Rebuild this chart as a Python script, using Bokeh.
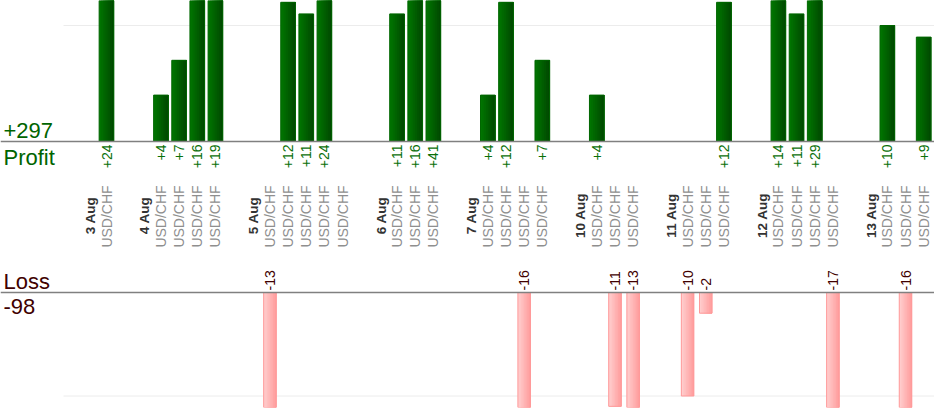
import math
from bokeh.plotting import figure
from bokeh.models import Range1d, Span
from bokeh.core.properties import value
from bokeh.embed import file_html
from bokeh.resources import INLINE

# ---------------- data ----------------
DAYS = ["3 Aug", "4 Aug", "5 Aug", "6 Aug", "7 Aug", "10 Aug", "11 Aug", "12 Aug", "13 Aug"]
TRADES_PER_DAY = [1, 4, 5, 3, 4, 3, 3, 4, 3]
PAIR = "USD/CHF"
RESULTS = [24,
           4, 7, 16, 19,
           -13, 12, 11, 24, 0,
           11, 16, 41,
           4, 12, -16, 7,
           4, -11, -13,
           -10, -2, 12,
           14, 11, 29, -17,
           10, -16, 9]
PROFIT_GRID = 10
LOSS_GRID = -10

# ---------------- layout ----------------
W, H = 934, 420
BOTTOM_BORDER = 13
FRAME_H = H - BOTTOM_BORDER
PITCH = 18.16           # px per slot
LEFT_PAD_PX = 106       # px from frame left to first slot centre
GRID_LEFT_PX = 63
PROFIT_BASE_PX = 141    # baseline of profit panel from frame top
PROFIT_PPU = 11.6
LOSS_BASE_PX = 292
LOSS_PPU = 10.35
GAP = 2
FONT = value("Liberation Sans")
STRIPS = 8

slots, first_slot = [], []
s = 0
for n in TRADES_PER_DAY:
    first_slot.append(s)
    for _ in range(n):
        slots.append(s)
        s += 1
    s += GAP

x_start = -LEFT_PAD_PX / PITCH
x_end = x_start + W / PITCH
grid_x0 = x_start + GRID_LEFT_PX / PITCH

p = figure(width=W, height=H,
           x_range=Range1d(x_start, x_end),
           y_range=Range1d(-(FRAME_H - PROFIT_BASE_PX) / PROFIT_PPU, PROFIT_BASE_PX / PROFIT_PPU),
           x_axis_type=None, y_axis_type=None,
           output_backend="svg", toolbar_location=None,
           min_border_left=0, min_border_right=0, min_border_top=0,
           min_border_bottom=BOTTOM_BORDER, outline_line_color=None,
           background_fill_color="white", border_fill_color="white")
p.extra_y_ranges = {"loss": Range1d(-(FRAME_H - LOSS_BASE_PX) / LOSS_PPU, LOSS_BASE_PX / LOSS_PPU)}

# grid lines
p.segment(x0=[grid_x0], y0=[PROFIT_GRID], x1=[x_end], y1=[PROFIT_GRID], line_color="#ececec", line_width=1)
p.segment(x0=[grid_x0], y0=[LOSS_GRID], x1=[x_end], y1=[LOSS_GRID], line_color="#ececec", line_width=1,
          y_range_name="loss")

pos_x = [x for x, v in zip(slots, RESULTS) if v > 0]
pos_v = [v for v in RESULTS if v > 0]
neg_x = [x for x, v in zip(slots, RESULTS) if v < 0]
neg_v = [v for v in RESULTS if v < 0]


def mix(c0, c1, t):
    return "#%02x%02x%02x" % tuple(int(round(a + (b - a) * t)) for a, b in zip(c0, c1))


def gradient_bars(xs, tops, bottoms, width, c0, c1, outline, **kw):
    # overlapping right-anchored layers: each one starts a bit further right
    sw = width / STRIPS
    for k in range(STRIPS):
        col = mix(c0, c1, k / (STRIPS - 1))
        w = width - k * sw
        off = width / 2 - w / 2
        p.vbar(x=[x + off for x in xs], top=tops, bottom=bottoms, width=w,
               fill_color=col, line_color=None, **kw)
    p.vbar(x=xs, top=tops, bottom=bottoms, width=width, fill_alpha=0,
           line_color=outline, line_width=1, **kw)


gradient_bars(pos_x, pos_v, [0] * len(pos_x), 0.81, (0, 0x74, 0), (0, 0x4a, 0), "#006600")
gradient_bars(neg_x, [0] * len(neg_x), neg_v, 0.69, (0xff, 0xcc, 0xcc), (0xff, 0x9f, 0x9f), "#ff9999",
              y_range_name="loss")

p.add_layout(Span(location=0, dimension="width", line_color="#808080", line_width=1.5))
p.add_layout(Span(location=0, dimension="width", line_color="#808080", line_width=1.5, y_range_name="loss"))

# value labels
p.text(x=pos_x, y=[0] * len(pos_x), text=["+%d" % v for v in pos_v], angle=math.pi / 2,
       text_align="right", text_baseline="middle", y_offset=3,
       text_font=FONT, text_font_size="14px", text_color="#0a700a")
p.text(x=neg_x, y=[0] * len(neg_x), text=["%d" % v for v in neg_v], angle=math.pi / 2,
       text_align="left", text_baseline="middle", y_offset=-2, y_range_name="loss",
       text_font=FONT, text_font_size="14px", text_color="#400000")

# category labels
p.text(x=slots, y=[0] * len(slots), text=[PAIR] * len(slots), angle=math.pi / 2,
       text_align="center", text_baseline="middle", y_offset=75,
       text_font=FONT, text_font_size="14px", text_color="#8f8f8f")
p.text(x=first_slot, y=[0] * len(first_slot), text=DAYS, angle=math.pi / 2,
       text_align="center", text_baseline="middle", x_offset=-16, y_offset=74,
       text_font=FONT, text_font_size="13.5px", text_font_style="bold", text_color="#333333")

# totals
total_profit = sum(pos_v)
total_loss = sum(neg_v)
p.text(x=[x_start], y=[0], text=["+%d" % total_profit], x_offset=3, y_offset=-11.5,
       text_align="left", text_baseline="middle",
       text_font=FONT, text_font_size="22px", text_color="#006400")
p.text(x=[x_start], y=[0], text=["Profit"], x_offset=3, y_offset=15.5,
       text_align="left", text_baseline="middle",
       text_font=FONT, text_font_size="22px", text_color="#006400")
p.text(x=[x_start], y=[0], text=["Loss"], x_offset=3, y_offset=-11.5, y_range_name="loss",
       text_align="left", text_baseline="middle",
       text_font=FONT, text_font_size="22px", text_color="#400000")
p.text(x=[x_start], y=[0], text=["%d" % total_loss], x_offset=3, y_offset=14, y_range_name="loss",
       text_align="left", text_baseline="middle",
       text_font=FONT, text_font_size="22px", text_color="#400000")

open("out.html", "w").write(file_html(p, INLINE))
